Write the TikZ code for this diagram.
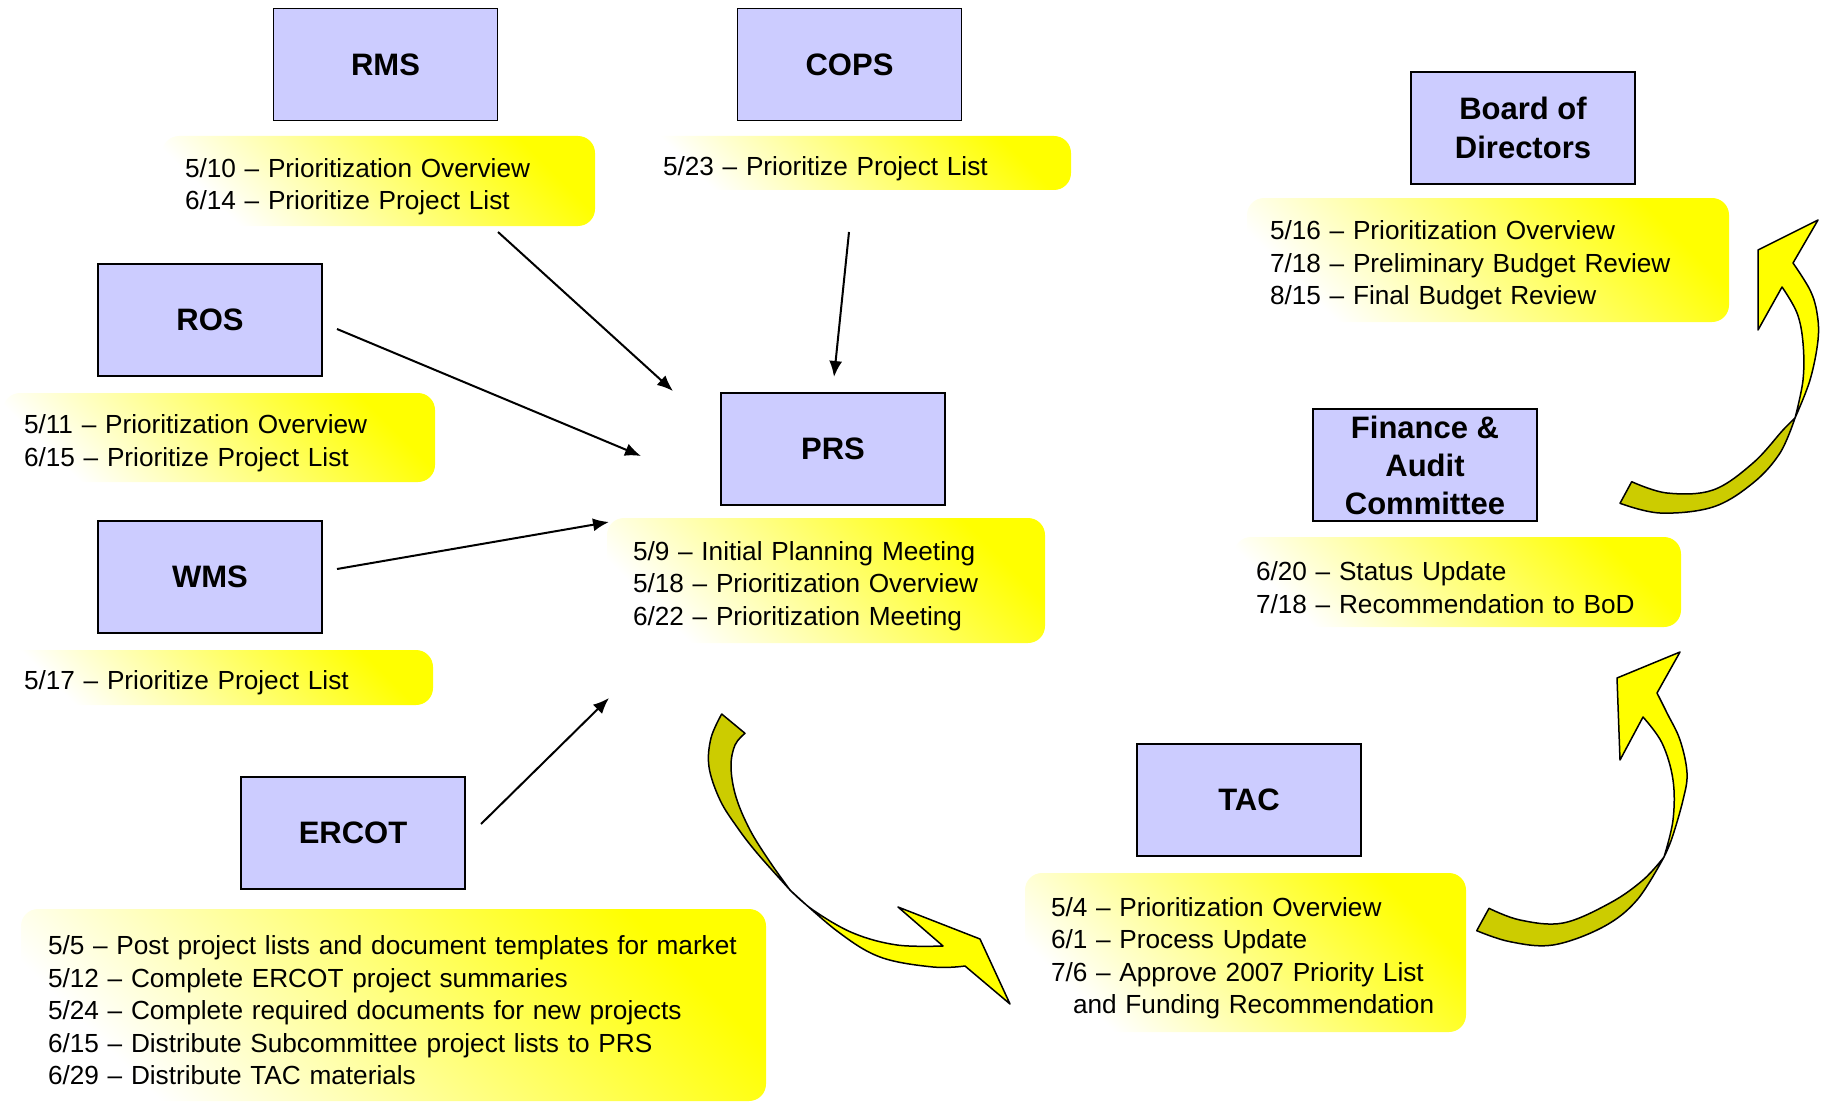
\documentclass[tikz,border=0pt]{standalone}
\usepackage{fontspec}
\setmainfont{Liberation Sans}
\usetikzlibrary{arrows.meta}
\definecolor{boxblue}{RGB}{204,204,255}
\definecolor{olivey}{RGB}{204,204,0}
\definecolor{brightyellow}{RGB}{255,255,0}
\tikzset{
  org/.style={draw=black, line width=1.5pt, fill=boxblue, minimum width=224pt, minimum height=112pt, inner sep=0pt, align=center, font=\fontsize{31}{38.5}\selectfont\bfseries},
  note/.style={rounded corners=17pt, top color=brightyellow, bottom color=white, middle color=brightyellow!50, shading angle=-45, inner xsep=23pt, inner ysep=0pt, align=left, font=\fontsize{26.2}{32.5}\selectfont, execute at begin node={\rule{0pt}{30pt}}},
  conn/.style={line width=2pt, -{Latex[length=16pt,width=13pt]}},
  ribbon/.style={draw=black, line width=1.5pt, line join=round},
}
\begin{document}
\hyphenpenalty=10000
\exhyphenpenalty=10000
\begin{tikzpicture}[x=1pt,y=-1pt]
\useasboundingbox (0,0) rectangle (1827,1102);
% blue boxes
\node[org] (rms) at (385.5,64.5) {RMS};
\node[org] (cops) at (849.5,64.5) {COPS};
\node[org] (ros) at (210,320) {ROS};
\node[org] (wms) at (210,577) {WMS};
\node[org] (ercot) at (353,833) {ERCOT};
\node[org] (prs) at (833,449) {PRS};
\node[org] (bod) at (1523,128) {Board of\\Directors};
\node[org, font=\fontsize{31}{38}\selectfont\bfseries] (fin) at (1425,465) {Finance \&\\Audit\\Committee};
\node[org] (tac) at (1249,800) {TAC};
% notes
\node[note, minimum width=433pt, minimum height=90pt, text width=387pt] (rmsn) at (378.5,181) {5/10 -- Prioritization Overview\\6/14 -- Prioritize Project List};
\node[note, minimum width=429pt, minimum height=54pt, text width=387pt, inner xsep=21pt] (copsn) at (856.5,163) {5/23 -- Prioritize Project List};
\node[note, minimum width=432pt, minimum height=89pt, text width=390pt, inner xsep=21pt] (rosn) at (219,437.5) {5/11 -- Prioritization Overview\\6/15 -- Prioritize Project List};
\node[note, minimum width=430pt, minimum height=55pt, text width=388pt, inner xsep=21pt] (wmsn) at (218,677.5) {5/17 -- Prioritize Project List};
\node[note, minimum width=438pt, minimum height=125pt, text width=386pt, inner xsep=26pt] (prsn) at (826,580.5) {5/9 -- Initial Planning Meeting\\5/18 -- Prioritization Overview\\6/22 -- Prioritization Meeting};
\node[note, minimum width=745pt, minimum height=192pt, text width=691pt, inner xsep=27pt] (ercotn) at (393.5,1005) {5/5 -- Post project lists and document templates for market\\5/12 -- Complete ERCOT project summaries\\5/24 -- Complete required documents for new projects\\6/15 -- Distribute Subcommittee project lists to PRS\\6/29 -- Distribute TAC materials};
\node[note, minimum width=441pt, minimum height=159pt, text width=389pt, inner xsep=26pt] (tacn) at (1245.5,952.5) {5/4 -- Prioritization Overview\\6/1 -- Process Update\\7/6 -- Approve 2007 Priority List\\\hspace*{22pt}and Funding Recommendation};
\node[note, minimum width=482pt, minimum height=124pt, text width=436pt] (bodn) at (1488,260) {5/16 -- Prioritization Overview\\7/18 -- Preliminary Budget Review\\8/15 -- Final Budget Review};
\node[note, minimum width=447pt, minimum height=90pt, text width=403pt, inner xsep=22pt] (finn) at (1457.5,582) {6/20 -- Status Update\\7/18 -- Recommendation to BoD};
% connector ends
\coordinate (rmsS) at (498,232);  \coordinate (prsA) at (673,391);
\coordinate (copsS) at (849,232); \coordinate (prsB) at (834,377);
\coordinate (rosS) at (337,329);  \coordinate (prsC) at (641,456);
\coordinate (wmsS) at (337,569);  \coordinate (prsD) at (609,522);
\coordinate (ercotS) at (481,824); \coordinate (prsE) at (609,698);
\draw[conn] (rmsS) -- (prsA);
\draw[conn] (copsS) -- (prsB);
\draw[conn] (rosS) -- (prsC);
\draw[conn] (wmsS) -- (prsD);
\draw[conn] (ercotS) -- (prsE);
% curved arrow PRS -> TAC
\filldraw[ribbon, fill=olivey] (721.7,714) -- plot[smooth, tension=0.6] coordinates {(721.7,714) (711,738) (709,767) (720,800) (737,827) (757,853) (790,890)} -- plot[smooth, tension=0.6] coordinates {(790,890) (770,862) (750,830) (736,797) (731,767) (735,745) (745,733.3)} -- cycle;
\filldraw[ribbon, fill=brightyellow] (790,890) -- plot[smooth, tension=0.6] coordinates {(790,890) (813,910) (853,933) (897,945) (943,946)} -- (898,907) -- (980,939) -- (1010,1004) -- (965,966) -- plot[smooth, tension=0.6] coordinates {(965,966) (933,967) (880,957) (837,931) (790,890)} -- cycle;
% curved arrow TAC -> Finance
\filldraw[ribbon, fill=olivey] (1476.7,930.7) -- plot[smooth, tension=0.6] coordinates {(1476.7,930.7) (1510,941.7) (1553,945) (1603,927) (1637,900) (1664,857)} -- plot[smooth, tension=0.6] coordinates {(1664,857) (1643,880) (1610,903) (1563,923) (1520,920) (1489,908.3)} -- cycle;
\filldraw[ribbon, fill=brightyellow] (1664,857) -- plot[smooth, tension=0.6] coordinates {(1664,857) (1672,838) (1683,800) (1687,773) (1680,740) (1667,713) (1657,693)} -- (1680,652) -- (1617,678) -- (1620,760) -- (1643,717) -- plot[smooth, tension=0.6] coordinates {(1643,717) (1662,743) (1673,780) (1673,820) (1664,857)} -- cycle;
% curved arrow Finance -> BoD
\filldraw[ribbon, fill=olivey] (1620,503.3) -- plot[smooth, tension=0.6] coordinates {(1620,503.3) (1660,513) (1713,507) (1753,483) (1780,453) (1795,418)} -- plot[smooth, tension=0.6] coordinates {(1795,418) (1783,430) (1753,463) (1713,490) (1667,493) (1631.7,481.7)} -- cycle;
\filldraw[ribbon, fill=brightyellow] (1795,418) -- plot[smooth, tension=0.6] coordinates {(1795,418) (1810,380) (1818,340) (1817,313) (1810,290) (1793,263)} -- (1818,220) -- (1758,250) -- (1758,330) -- (1782,287) -- plot[smooth, tension=0.6] coordinates {(1782,287) (1797,313) (1803,343) (1803,380) (1795,418)} -- cycle;
\end{tikzpicture}
\end{document}
